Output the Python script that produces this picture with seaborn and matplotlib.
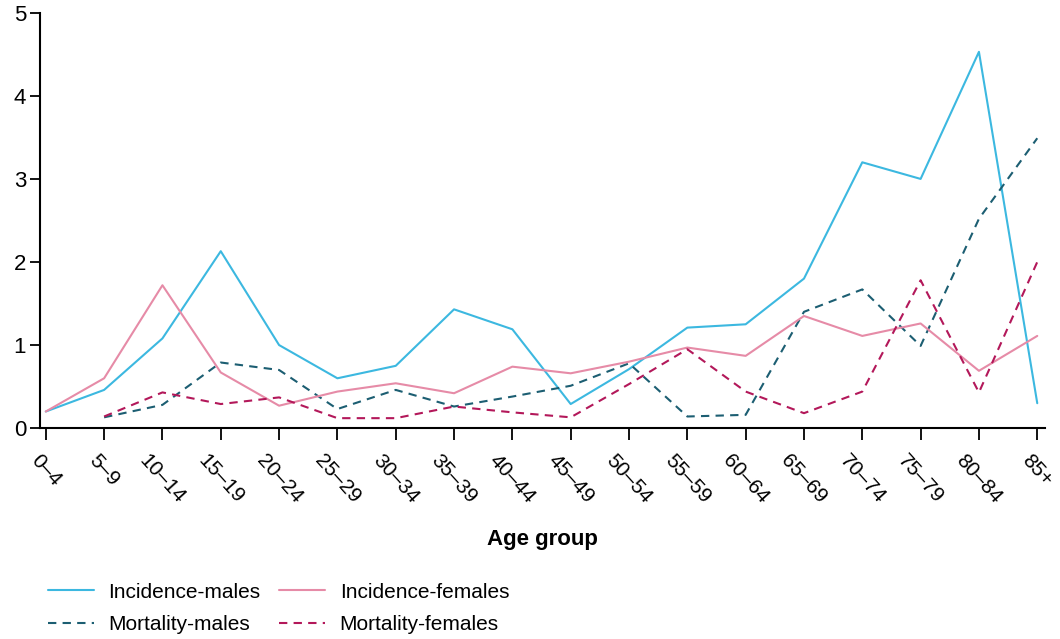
import numpy as np
import pandas as pd
import matplotlib
matplotlib.use("Agg")
import matplotlib.pyplot as plt
import seaborn as sns

sns.set_theme(style="ticks", rc={'text.color': 'black', 'axes.labelcolor': 'black',
                                 'xtick.color': 'black', 'ytick.color': 'black',
                                 'axes.edgecolor': 'black'})
plt.rcParams['font.family'] = ['Liberation Sans', 'DejaVu Sans']

# -----------------------------------
# Data (rate per 100,000)
# -----------------------------------

age_groups = ['0–4', '5–9', '10–14', '15–19', '20–24', '25–29', '30–34', '35–39',
              '40–44', '45–49', '50–54', '55–59', '60–64', '65–69', '70–74',
              '75–79', '80–84', '85+']

incidence_males = [0.20, 0.46, 1.08, 2.13, 1.00, 0.60, 0.75, 1.43, 1.19, 0.29,
                   0.71, 1.21, 1.25, 1.80, 3.20, 3.00, 4.53, 0.30]
incidence_females = [0.20, 0.60, 1.72, 0.67, 0.27, 0.44, 0.54, 0.42, 0.74, 0.66,
                     0.80, 0.97, 0.87, 1.35, 1.11, 1.26, 0.69, 1.11]
mortality_males = [np.nan, 0.13, 0.28, 0.79, 0.70, 0.23, 0.46, 0.26, 0.38, 0.51,
                   0.78, 0.14, 0.16, 1.40, 1.67, 0.99, 2.52, 3.49]
mortality_females = [np.nan, 0.14, 0.43, 0.29, 0.37, 0.12, 0.12, 0.26, 0.19, 0.13,
                     0.53, 0.95, 0.44, 0.18, 0.44, 1.78, 0.43, 2.00]

series_names = ['Incidence-males', 'Mortality-males', 'Incidence-females', 'Mortality-females']
series_values = [incidence_males, mortality_males, incidence_females, mortality_females]

colors = {'Incidence-males': '#3cb8e0', 'Mortality-males': '#1c5e72',
          'Incidence-females': '#e68ba7', 'Mortality-females': '#b3185a'}
dashes = {'Incidence-males': '', 'Mortality-males': (4, 3),
          'Incidence-females': '', 'Mortality-females': (4, 3)}

frames = []
for name, vals in zip(series_names, series_values):
    frames.append(pd.DataFrame({'Age group': age_groups, 'Rate': vals, 'Series': name}))
df = pd.concat(frames, ignore_index=True)

# -----------------------------------
# Plot
# -----------------------------------

fig = plt.figure(figsize=(10.6, 6.39), dpi=100)
ax = fig.add_axes([0.0377, 0.330, 0.948, 0.650])

sns.lineplot(data=df, x='Age group', y='Rate', hue='Series', style='Series',
             hue_order=series_names, style_order=series_names,
             palette=colors, dashes=dashes, linewidth=1.5, sort=False, ax=ax)

ax.set_ylim(0, 5)
ax.set_yticks([0, 1, 2, 3, 4, 5])
ax.set_xlim(-0.1, len(age_groups) - 1 + 0.13)
ax.set_xticks(range(len(age_groups)))
ax.set_xticklabels(age_groups, rotation=-48, ha='center', fontsize=15)
ax.tick_params(axis='y', labelsize=16, length=7, width=1.3, pad=3)
ax.tick_params(axis='x', length=8.5, width=1.3, pad=8)

for side in ['top', 'right']:
    ax.spines[side].set_visible(False)
for side in ['left', 'bottom']:
    ax.spines[side].set_linewidth(1.5)

ax.set_ylabel('')
ax.set_xlabel('Age group', fontsize=16, fontweight='bold', labelpad=16)

handles, labels = ax.get_legend_handles_labels()
ax.legend(handles, labels, ncol=2, frameon=False, fontsize=15,
          loc='upper left', bbox_to_anchor=(0.008, -0.372), handlelength=2.2,
          handletextpad=0.7, columnspacing=0.9, labelspacing=0.65,
          borderpad=0, borderaxespad=0)

plt.savefig("out.png", dpi=100)
